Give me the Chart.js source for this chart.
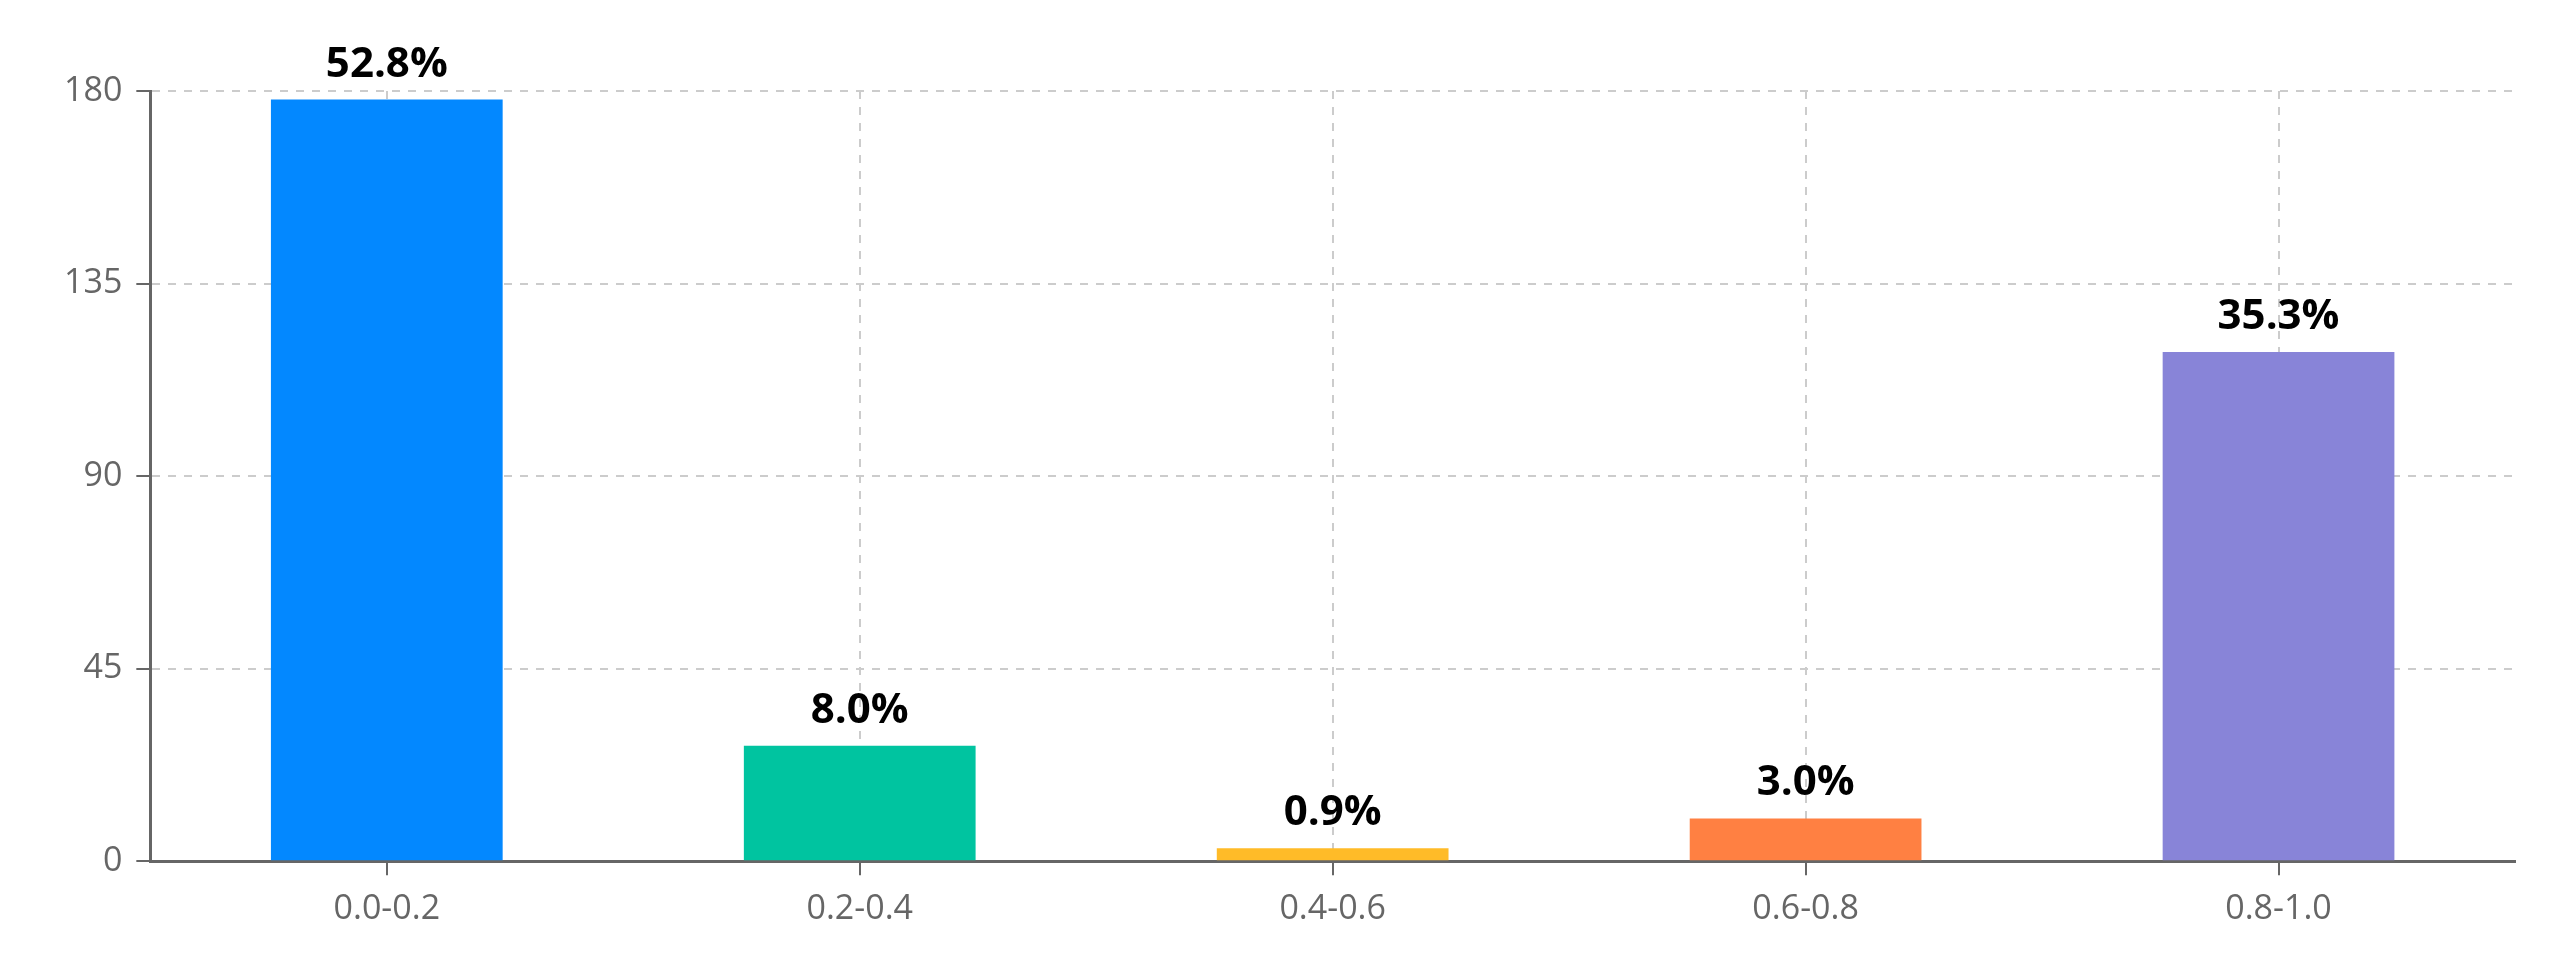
<!DOCTYPE html>
<html><head><meta charset="utf-8">
<script src="https://cdn.jsdelivr.net/npm/chart.js@4"></script>
<style>html,body{margin:0;background:#fff}#w{width:2553px;height:968px}</style>
</head><body><div id="w"><canvas id="c"></canvas></div>
<script>
const categories = ['0.0-0.2','0.2-0.4','0.4-0.6','0.6-0.8','0.8-1.0'];
const counts = [178, 27, 3, 10, 119];
const percentLabels = ['52.8%','8.0%','0.9%','3.0%','35.3%'];
const yTicks = [0, 45, 90, 135, 180];
const colors = ['#0388ff','#00c4a0','#ffbb28','#ff8042','#8884d8'];

const labelPlugin = {
  id: 'pct',
  afterDatasetsDraw(chart) {
    const ctx = chart.ctx;
    const meta = chart.getDatasetMeta(0);
    ctx.save();
    ctx.font = 'bold 42px "Open Sans", sans-serif';
    ctx.fillStyle = '#000';
    ctx.textAlign = 'center';
    ctx.textBaseline = 'bottom';
    meta.data.forEach((bar, i) => ctx.fillText(percentLabels[i], bar.x, bar.y - 14));
    ctx.restore();
  }
};

new Chart(document.getElementById('c'), {
  type: 'bar',
  data: { labels: categories, datasets: [{ data: counts, backgroundColor: colors,
    categoryPercentage: 1, barPercentage: 0.49 }] },
  options: {
    responsive: true, maintainAspectRatio: false, animation: false,
    devicePixelRatio: 1,
    layout: { padding: { left: 50, right: 38, top: 91, bottom: 24 } },
    plugins: { legend: { display: false }, tooltip: { enabled: false } },
    scales: {
      x: {
        offset: true,
        grid: { offset: false, display: true, color: '#cccccc', lineWidth: 2,
          tickColor: '#666', tickLength: 14, drawTicks: true },
        border: { display: true, color: '#666', width: 3, dash: [8, 8] },
        ticks: { color: '#666', font: { size: 34, family: '"Open Sans", sans-serif' }, padding: 14 }
      },
      y: {
        min: 0, max: 180,
        afterBuildTicks(s) { s.ticks = yTicks.map(v => ({ value: v })); },
        grid: { color: '#cccccc', lineWidth: 2, tickColor: '#666', tickLength: 14 },
        border: { display: true, color: '#666', width: 3, dash: [8, 8] },
        ticks: { color: '#666', font: { size: 34, family: '"Open Sans", sans-serif' }, padding: 14 }
      }
    }
  },
  plugins: [labelPlugin]
});
</script></body></html>
